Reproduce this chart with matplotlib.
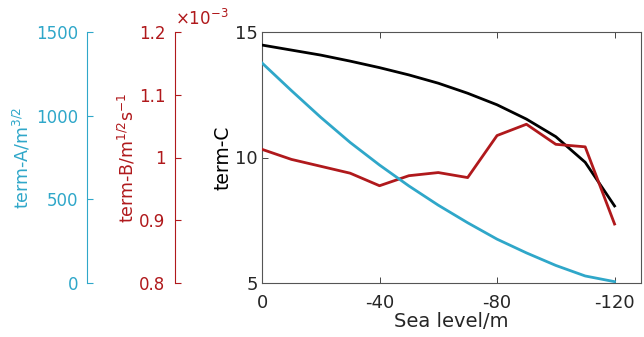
import numpy as np
import matplotlib
matplotlib.use('Agg')
import matplotlib.pyplot as plt

plt.rcParams['font.family'] = 'DejaVu Sans'
plt.rcParams['mathtext.default'] = 'regular'
plt.rcParams['axes.unicode_minus'] = False

# sea level steps and the three terms
sea_level = [0, -10, -20, -30, -40, -50, -60, -70, -80, -90, -100, -110, -120]
term_a = [1315, 1150, 990, 840, 705, 580, 465, 360, 262, 180, 105, 42, 8]
term_b_e3 = [1.013, 0.997, 0.986, 0.975, 0.955, 0.971, 0.976, 0.968,
             1.035, 1.053, 1.021, 1.017, 0.894]
term_c = [14.48, 14.28, 14.08, 13.84, 13.58, 13.29, 12.96, 12.56,
          12.10, 11.53, 10.83, 9.81, 8.07]

cyan = '#2fa7c9'
red = '#b0191c'
grey = '#262626'

fig = plt.figure(figsize=(6.44, 3.37), dpi=100)
ax = fig.add_axes([262/644, 54/337, 379/644, 251/337])

ax.plot(sea_level, term_c, color='black', lw=2.0, zorder=3)
ax.set_xlim(0, -129)
ax.set_ylim(5, 15)
ax.set_xticks([0, -40, -80, -120])
ax.set_xticklabels(['0', '-40', '-80', '-120'])
ax.set_yticks([5, 10, 15])
ax.tick_params(direction='in', top=True, right=True, labelsize=13,
               colors=grey, length=4, width=0.6)
ax.tick_params(axis='x', pad=8)
ax.tick_params(axis='y', pad=3)
ax.set_xlabel('Sea level/m', fontsize=14, color=grey, labelpad=0)
ax.set_ylabel('term-C', fontsize=13.5, color='black', labelpad=2)
for s in ax.spines.values():
    s.set_color('#555555')
    s.set_linewidth(0.8)

# term-B on an offset left axis
axb = ax.twinx()
axb.plot(sea_level, term_b_e3, color=red, lw=2.0, zorder=2)
axb.set_ylim(0.8, 1.2)
axb.set_yticks([0.8, 0.9, 1.0, 1.1, 1.2])
axb.set_yticklabels(['0.8', '0.9', '1', '1.1', '1.2'])
axb.spines['left'].set_position(('axes', (175 - 262) / 379))
axb.spines['left'].set_visible(True)
axb.spines['left'].set_color(red)
for k in ('right', 'top', 'bottom'):
    axb.spines[k].set_visible(False)
axb.yaxis.set_ticks_position('left')
axb.yaxis.set_label_position('left')
axb.tick_params(axis='y', direction='in', colors=red, labelsize=12, length=4, pad=7)
axb.set_ylabel('term-B/m$^{1/2}$s$^{-1}$', color=red, fontsize=12.5, labelpad=1)
axb.text((175 - 262) / 379, 1.01, r'$\times$10$^{-3}$', transform=axb.transAxes,
         color=red, fontsize=12, ha='left', va='bottom')

# term-A on a second offset left axis
axa = ax.twinx()
axa.plot(sea_level, term_a, color=cyan, lw=2.0, zorder=1)
axa.set_ylim(0, 1500)
axa.set_yticks([0, 500, 1000, 1500])
axa.spines['left'].set_position(('axes', (87 - 262) / 379))
axa.spines['left'].set_visible(True)
axa.spines['left'].set_color(cyan)
for k in ('right', 'top', 'bottom'):
    axa.spines[k].set_visible(False)
axa.yaxis.set_ticks_position('left')
axa.yaxis.set_label_position('left')
axa.tick_params(axis='y', direction='in', colors=cyan, labelsize=12, length=4, pad=6)
axa.set_ylabel('term-A/m$^{3/2}$', color=cyan, fontsize=12.5, labelpad=3)

fig.savefig('out.png', dpi=100)
